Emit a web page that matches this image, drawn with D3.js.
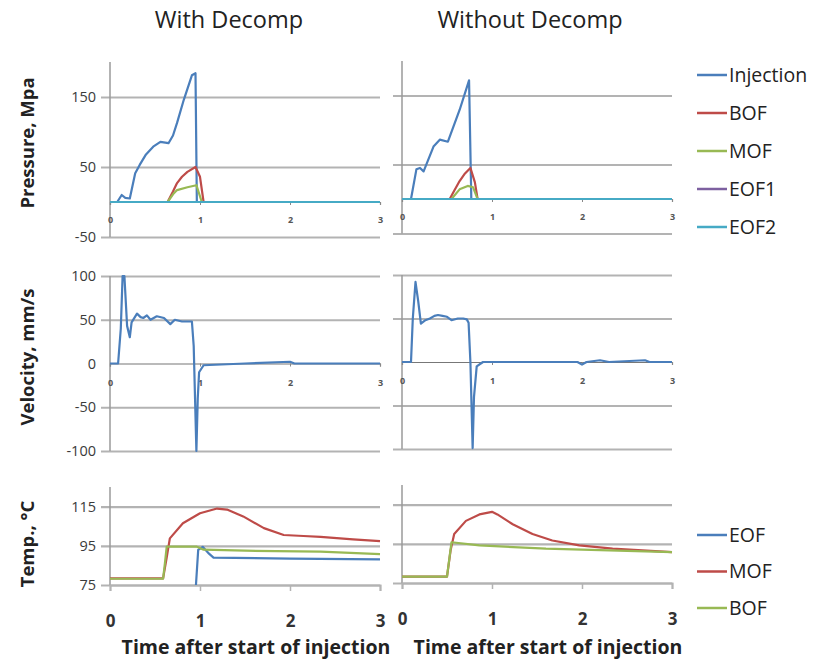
<!DOCTYPE html>
<html><head><meta charset="utf-8">
<script src="https://cdn.jsdelivr.net/npm/d3@7"></script>
<style>body{margin:0;background:#fff;} text{font-family:"Open Sans",Lato,sans-serif;}</style>
</head><body><svg id="c" width="827" height="661"></svg>
<script>
// ---------- DATA ----------
const panelTitles = ["With Decomp", "Without Decomp"];
const timeTicks = [0, 1, 2, 3];
const pressureTicks = [-50, 50, 150];
const velocityTicks = [-100, -50, 0, 50, 100];
const tempTicks = [75, 95, 115];
const pressureSeries = ["Injection", "BOF", "MOF", "EOF1", "EOF2"];
const tempSeries = ["EOF", "MOF", "BOF"];

// Pressure, with decomp  [time, MPa]
const injWith = [[0,0],[0.08,0],[0.13,10],[0.17,6],[0.22,5],[0.28,41],[0.33,53],[0.40,68],[0.48,79],[0.56,86],[0.65,84],[0.70,95],[0.745,113],[0.82,146],[0.91,181],[0.95,184],[0.965,0],[1.0,0],[3,0]];
const bofWith = [[0,0],[0.64,0],[0.70,15],[0.745,27],[0.80,36],[0.86,43],[0.95,50],[1.0,36],[1.04,0],[3,0]];
const mofWith = [[0,0],[0.64,0],[0.70,11],[0.745,17],[0.86,21],[0.96,24],[1.02,0],[3,0]];
const eof1With = [[0,0],[3,0]];
const eof2With = [[0,0],[3,0]];
// Pressure, without decomp
const injWithout = [[0,0],[0.1,0],[0.16,43],[0.2,45],[0.24,40],[0.35,76],[0.42,86],[0.51,83],[0.64,129],[0.745,172],[0.77,0],[3,0]];
const bofWithout = [[0,0],[0.53,0],[0.58,12],[0.64,26],[0.70,37],[0.76,45],[0.81,24],[0.84,0],[3,0]];
const mofWithout = [[0,0],[0.55,0],[0.64,14],[0.73,19],[0.79,17],[0.84,0],[3,0]];
const eof1Without = [[0,0],[3,0]];
const eof2Without = [[0,0],[3,0]];
// Velocity [time, mm/s]
const velWith = [[0,0],[0.09,0],[0.12,40],[0.14,100],[0.16,100],[0.19,43],[0.22,30],[0.24,47],[0.30,57],[0.34,53],[0.37,52],[0.41,55],[0.45,50],[0.52,54],[0.60,52],[0.67,45],[0.72,50],[0.80,48],[0.91,48],[0.93,20],[0.96,-100],[0.975,-40],[0.99,-10],[1.04,-2],[1.5,0],[2.0,2],[2.05,0],[3,0]];
const velWithout = [[0,0],[0.1,0],[0.12,50],[0.15,92],[0.18,70],[0.21,44],[0.26,48],[0.31,50],[0.36,53],[0.40,54],[0.45,53],[0.5,52],[0.55,48],[0.62,50],[0.68,50],[0.72,49],[0.74,45],[0.76,0],[0.785,-99],[0.80,-40],[0.83,-5],[0.9,0],[1.95,0],[2.0,-3],[2.05,0],[2.2,2],[2.3,0],[2.7,2],[2.75,0],[3,0]];
// Temperature [time, degC]
const eofTWith = [[0.955,75],[0.98,92.9],[1.03,94.5],[1.1,91],[1.15,89],[2.0,88.5],[3,88.1]];
const mofTWith = [[0,78.4],[0.59,78.4],[0.63,89],[0.665,98.8],[0.81,106.5],[1.0,111.6],[1.19,114],[1.3,113.5],[1.48,110],[1.71,104],[1.93,100.5],[2.15,100],[2.34,99.6],[2.7,98.3],[3,97.4]];
const bofTWith = [[0,78.2],[0.59,78.2],[0.61,86],[0.63,94.6],[0.96,94.6],[1.04,93],[1.5,92.5],[2.34,92],[3,90.8]];
const eofTWithout = [];
const mofTWithout = [[0,78.3],[0.5,78.3],[0.54,91.7],[0.58,100],[0.71,106.7],[0.86,110],[1.0,111.3],[1.06,110],[1.23,105],[1.45,100],[1.67,96.7],[1.97,94.2],[2.34,92.5],[3,90.8]];
const bofTWithout = [[0,78.3],[0.5,78.3],[0.55,95.8],[0.86,94.2],[1.6,92.5],[3,90.8]];

// ---------- STYLE ----------
const colors = {Injection:"#4a7ebb", BOF:"#be4b48", MOF:"#98b954", EOF1:"#7d60a0", EOF2:"#46aac5", EOF:"#4a7ebb"};
const tColors = {EOF:"#4a7ebb", MOF:"#be4b48", BOF:"#98b954"};
const gridColor = "#b3b3b3";
const fmt = d => String(d);

const svg = d3.select("#c");

const cols = [{x0:110, x1:380}, {x0:402, x1:672}];
const xs = cols.map(c => d3.scaleLinear().domain([0,3]).range([c.x0, c.x1]));

const rows = [
  {domain:[-50,200], ranges:[[237,62],[233.5,61]], ticks:pressureTicks, zeroAxis:true, xLabelOff:20,
   series:[[["Injection",injWith],["BOF",bofWith],["MOF",mofWith],["EOF1",eof1With],["EOF2",eof2With]],
           [["Injection",injWithout],["BOF",bofWithout],["MOF",mofWithout],["EOF1",eof1Without],["EOF2",eof2Without]]], cmap:colors},
  {domain:[-100,100], ranges:[[451,276],[449,275]], ticks:velocityTicks, zeroAxis:true, xLabelOff:21,
   series:[[["Injection",velWith]],[["Injection",velWithout]]], cmap:colors},
  {domain:[75,125], ranges:[[585,487],[583,485]], ticks:tempTicks, zeroAxis:false,
   series:[[["EOF",eofTWith],["MOF",mofTWith],["BOF",bofTWith]],[["EOF",eofTWithout],["MOF",mofTWithout],["BOF",bofTWithout]]], cmap:tColors}
];

rows.forEach((row, ri) => {
  cols.forEach((c, ci) => {
    const x = xs[ci];
    const y = d3.scaleLinear().domain(row.domain).range(row.ranges[ci]);
    const gridVals = row.ticks.filter(v => !(row.zeroAxis && v === 0));
    const g = svg.append("g").attr("transform", `translate(${c.x1},0)`)
      .call(d3.axisLeft(y).tickValues(gridVals).tickSize(c.x1 - c.x0 + 9).tickPadding(5)
        .tickFormat(ci === 0 ? fmt : () => ""));
    g.select(".domain").remove();
    g.selectAll(".tick line").attr("stroke", gridColor).attr("stroke-width", 2.2);
    g.selectAll(".tick text").attr("font-size", 14.5).attr("fill", "#3a3a3a");
    if (ci === 0 && row.ticks.includes(0) && row.zeroAxis) {
      const gz = svg.append("g").attr("transform", `translate(${c.x0 - 9},0)`)
        .call(d3.axisLeft(y).tickValues([0]).tickSize(0).tickPadding(5).tickFormat(fmt));
      gz.select(".domain").remove();
      gz.selectAll(".tick text").attr("font-size", 14.5).attr("fill", "#3a3a3a");
    }
    // y axis line
    svg.append("line").attr("x1", c.x0).attr("x2", c.x0)
      .attr("y1", y.range()[1]).attr("y2", y.range()[0])
      .attr("stroke", "#9a9a9a").attr("stroke-width", 1.5);
    // x axis
    if (row.zeroAxis) {
      const gx = svg.append("g").attr("transform", `translate(0,${y(0)})`)
        .call(d3.axisBottom(x).tickValues(timeTicks).tickSize(3).tickPadding(row.xLabelOff - 8).tickFormat(fmt));
      gx.select(".domain").attr("stroke", "#777").attr("stroke-width", 1.2);
      gx.selectAll(".tick line").attr("stroke", "#888");
      gx.selectAll(".tick text").attr("font-size", 9).attr("fill", "#555").attr("font-weight", "bold");
    } else {
      const gx = svg.append("g").attr("transform", `translate(0,${y(75)})`)
        .call(d3.axisBottom(x).tickValues(timeTicks).tickSize(6).tickPadding(24).tickFormat(fmt));
      gx.select(".domain").attr("stroke", gridColor).attr("stroke-width", 2);
      gx.selectAll(".tick line").attr("stroke", gridColor).attr("stroke-width", 1.5);
      gx.selectAll(".tick text").attr("font-size", 17).attr("fill", "#333").attr("font-weight", "bold");
      svg.append("text").attr("x", (c.x0 + c.x1) / 2 + 11).attr("y", 654)
        .attr("text-anchor", "middle").attr("font-size", 19.5).attr("font-weight", "bold").attr("fill", "#222")
        .text("Time after start of injection");
    }
    // lines
    const line = d3.line().x(d => x(d[0])).y(d => y(d[1]));
    row.series[ci].forEach(([name, data]) => {
      if (!data.length) return;
      svg.append("path").datum(data).attr("d", line).attr("fill", "none")
        .attr("stroke", row.cmap[name]).attr("stroke-width", 2.2).attr("stroke-linejoin", "round");
    });
  });
});

// titles
[229, 530].forEach((cx, i) => {
  svg.append("text").attr("x", cx).attr("y", 28).attr("text-anchor", "middle")
    .attr("font-size", 23.5).attr("fill", "#222").text(panelTitles[i]);
});

// y axis titles
[["Pressure, Mpa", 143], ["Velocity, mm/s", 357], ["Temp., °C", 544]].forEach(([t, cy]) => {
  svg.append("text").attr("transform", `translate(34,${cy}) rotate(-90)`)
    .attr("text-anchor", "middle").attr("font-size", 18.5).attr("font-weight", "bold").attr("fill", "#222").text(t);
});

// legends
const legY1 = d3.scalePoint().domain(pressureSeries).range([75, 227]);
pressureSeries.forEach(n => {
  const yy = legY1(n);
  svg.append("line").attr("x1", 697).attr("x2", 727).attr("y1", yy).attr("y2", yy).attr("stroke", colors[n]).attr("stroke-width", 2.5);
  svg.append("text").attr("x", 729).attr("y", yy).attr("dy", "0.35em").attr("font-size", 19.5).attr("fill", "#222").text(n);
});
const legY2 = d3.scalePoint().domain(tempSeries).range([535, 608]);
tempSeries.forEach(n => {
  const yy = legY2(n);
  svg.append("line").attr("x1", 697).attr("x2", 727).attr("y1", yy).attr("y2", yy).attr("stroke", tColors[n]).attr("stroke-width", 2.5);
  svg.append("text").attr("x", 729).attr("y", yy).attr("dy", "0.35em").attr("font-size", 19.5).attr("fill", "#222").text(n);
});
</script></body></html>
